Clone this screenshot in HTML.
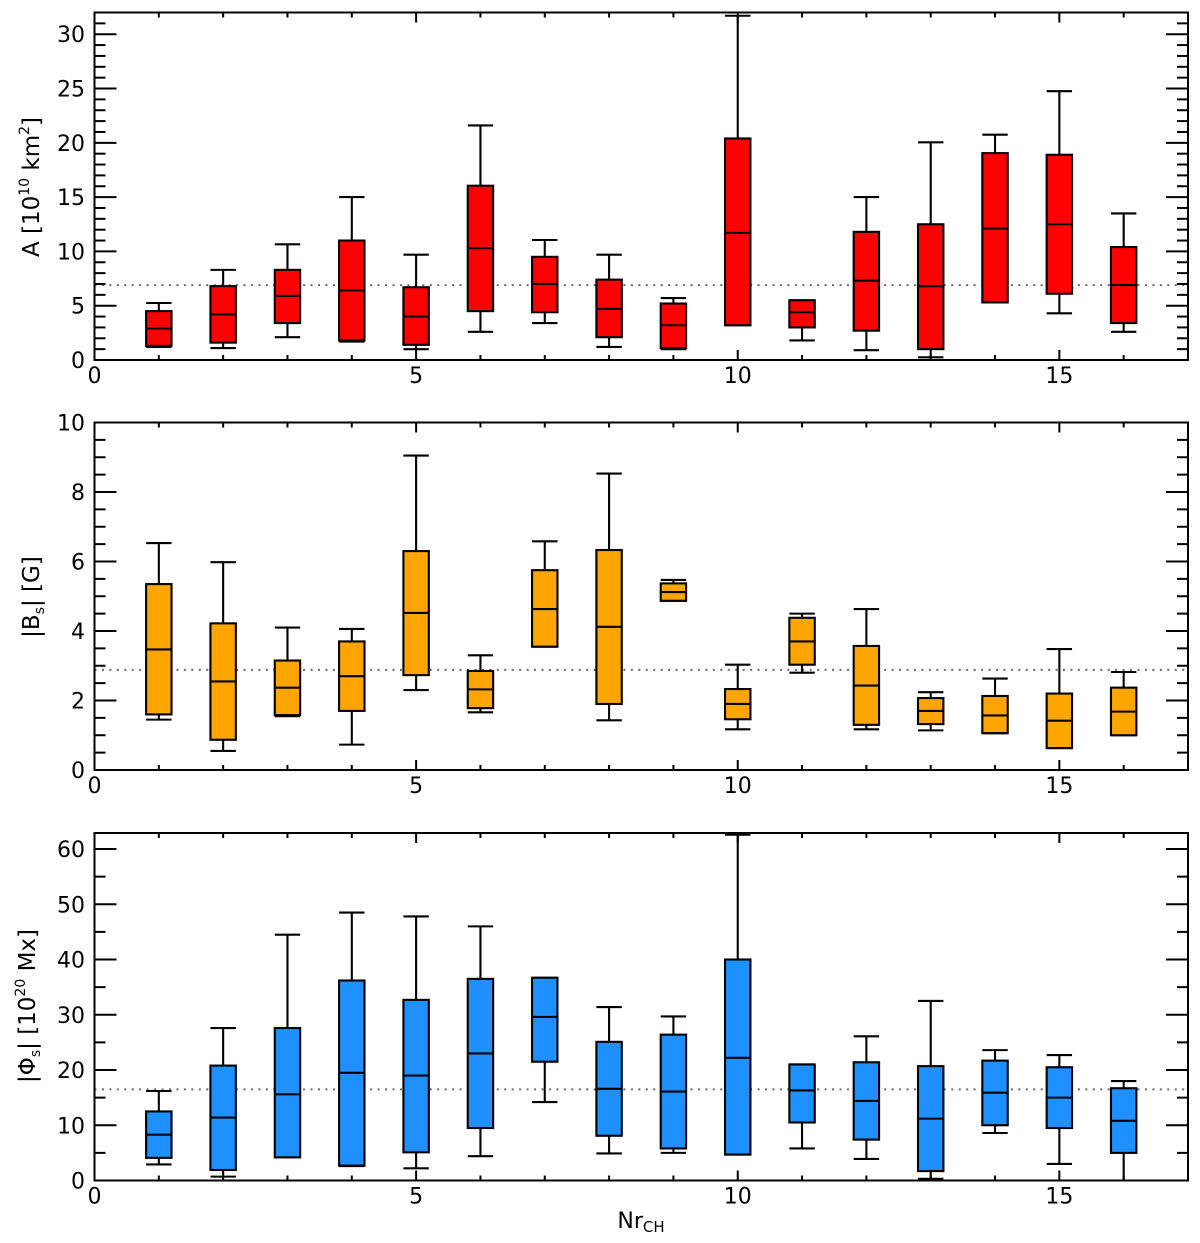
<!DOCTYPE html>
<html lang="en">
<head>
<meta charset="utf-8">
<title>Coronal hole box plots</title>
<style>
html,body{margin:0;padding:0;background:#fff;}
svg{display:block;}
text{font-family:"DejaVu Sans","Liberation Sans",sans-serif;fill:#000;}
</style>
</head>
<body>
<svg id="chart" xmlns="http://www.w3.org/2000/svg" width="1200" height="1243" viewBox="0 0 1200 1243">
  <text transform="translate(39,187) rotate(-90)" text-anchor="middle" font-size="23">A [10<tspan font-size="14" dy="-10">10</tspan><tspan dy="10"> km</tspan><tspan font-size="14" dy="-10">2</tspan><tspan dy="10">]</tspan></text>
  <text transform="translate(39,597) rotate(-90)" text-anchor="middle" font-size="23">|B<tspan font-size="14" dy="5">s</tspan><tspan dy="-5">| [G]</tspan></text>
  <text transform="translate(35,1006) rotate(-90)" text-anchor="middle" font-size="23">|Φ<tspan font-size="14" dy="5">s</tspan><tspan dy="-5">| [10</tspan><tspan font-size="14" dy="-10">20</tspan><tspan dy="10"> Mx]</tspan></text>
  <text x="641" y="1228" text-anchor="middle" font-size="22">Nr<tspan font-size="15" dy="4">CH</tspan></text>
</svg>
<script>
const categories = [1,2,3,4,5,6,7,8,9,10,11,12,13,14,15,16];
const xTickLabels = [0,5,10,15];

const areaLow = [1.2,1.1,2.1,1.7,1.0,2.6,3.4,1.2,1.0,3.2,1.8,0.9,0.25,5.3,4.3,2.6];
const areaQ1 = [1.3,1.6,3.4,1.8,1.4,4.5,4.4,2.1,1.1,3.2,3.0,2.7,1.0,5.3,6.1,3.4];
const areaMedian = [2.9,4.2,5.9,6.4,4.0,10.3,7.0,4.7,3.2,11.7,4.4,7.3,6.8,12.1,12.5,6.9];
const areaQ3 = [4.5,6.8,8.3,11.0,6.7,16.05,9.5,7.4,5.2,20.4,5.5,11.8,12.5,19.05,18.9,10.4];
const areaHigh = [5.25,8.3,10.65,15.0,9.7,21.6,11.05,9.7,5.7,31.7,5.5,15.0,20.05,20.75,24.75,13.5];
const areaMean = 6.9;
const areaTickLabels = [0,5,10,15,20,25,30];

const fieldLow = [1.45,0.55,1.55,0.73,2.3,1.66,3.55,1.43,4.87,1.17,2.8,1.17,1.14,1.06,0.63,1.0];
const fieldQ1 = [1.6,0.87,1.58,1.7,2.73,1.78,3.55,1.9,4.87,1.46,3.03,1.3,1.32,1.06,0.63,1.0];
const fieldMedian = [3.47,2.55,2.37,2.7,4.52,2.32,4.63,4.12,5.12,1.9,3.7,2.43,1.7,1.57,1.42,1.68];
const fieldQ3 = [5.35,4.22,3.15,3.7,6.3,2.85,5.75,6.33,5.37,2.33,4.38,3.57,2.07,2.13,2.2,2.37];
const fieldHigh = [6.53,5.98,4.1,4.06,9.05,3.3,6.58,8.53,5.47,3.03,4.5,4.63,2.24,2.63,3.48,2.82];
const fieldMean = 2.88;
const fieldTickLabels = [0,2,4,6,8,10];

const fluxLow = [2.9,0.7,4.2,2.6,2.2,4.4,14.2,4.9,5.0,4.7,5.8,3.9,0.3,8.6,3.0,0.0];
const fluxQ1 = [4.1,1.9,4.2,2.7,5.1,9.5,21.5,8.1,5.8,4.7,10.5,7.4,1.7,10.0,9.5,5.0];
const fluxMedian = [8.3,11.4,15.6,19.5,19.0,23.0,29.6,16.6,16.1,22.2,16.3,14.4,11.2,15.9,15.0,10.8];
const fluxQ3 = [12.5,20.8,27.6,36.2,32.7,36.5,36.7,25.1,26.4,40.0,21.0,21.4,20.7,21.7,20.5,16.7];
const fluxHigh = [16.2,27.6,44.5,48.5,47.8,46.0,36.7,31.4,29.7,62.6,21.0,26.1,32.5,23.6,22.7,18.0];
const fluxMean = 16.5;
const fluxTickLabels = [0,10,20,30,40,50,60];

const SVGNS = 'http://www.w3.org/2000/svg';
const svg = document.getElementById('chart');
const plotLeft = 94.5, plotRight = 1188;
const xMax = 17;
const boxHalf = 12.7;
const markWidth = 2.1;
const axisWidth = 2;

function xPos(v){ return plotLeft + (v / xMax) * (plotRight - plotLeft); }

function make(parent, tag, attrs){
  const el = document.createElementNS(SVGNS, tag);
  for (const k in attrs) el.setAttribute(k, attrs[k]);
  parent.appendChild(el);
  return el;
}

function drawLine(parent, x1, y1, x2, y2, sw, name){
  const el = make(parent, 'line', {x1:x1, y1:y1, x2:x2, y2:y2, stroke:'#000', 'stroke-width':sw});
  
  
  return el;
}

function drawLabel(parent, x, y, txt, anchor, name){
  const el = make(parent, 'text', {x:x, y:y, 'text-anchor':anchor, 'font-size':22});
  el.textContent = txt;
  
  
  return el;
}

function drawPanel(id, top, bottom, yMax, minorStep, yLabels, low, q1, med, q3, high, mean, color){
  const yPos = function(v){ return bottom - (v / yMax) * (bottom - top); };
  const g = make(svg, 'g', {});
  
  

  const meanLine = make(g, 'line', {x1:plotLeft, y1:yPos(mean), x2:plotRight, y2:yPos(mean), stroke:'#6a6a6a', 'stroke-width':2, 'stroke-dasharray':'2 5.45'});
  
  

  categories.forEach(function(c, i){
    const bx = make(g, 'g', {});
    
    
    const x = xPos(c);
    drawLine(bx, x, yPos(high[i]), x, yPos(q3[i]), markWidth, id + '-upper-whisker-' + c);
    drawLine(bx, x, yPos(low[i]), x, yPos(q1[i]), markWidth, id + '-lower-whisker-' + c);
    drawLine(bx, x - boxHalf, yPos(high[i]), x + boxHalf, yPos(high[i]), markWidth, id + '-upper-cap-' + c);
    drawLine(bx, x - boxHalf, yPos(low[i]), x + boxHalf, yPos(low[i]), markWidth, id + '-lower-cap-' + c);
    const r = make(bx, 'rect', {x:x - boxHalf, y:yPos(q3[i]), width:2 * boxHalf, height:yPos(q1[i]) - yPos(q3[i]), fill:color, stroke:'#000', 'stroke-width':markWidth});
    
    
    drawLine(bx, x - boxHalf, yPos(med[i]), x + boxHalf, yPos(med[i]), markWidth, id + '-median-' + c);
  });

  const frame = make(g, 'rect', {x:plotLeft, y:top, width:plotRight - plotLeft, height:bottom - top, fill:'none', stroke:'#000', 'stroke-width':axisWidth});
  
  

  for (let t = 1; t < xMax; t++){
    const major = t % 5 === 0;
    const len = major ? 10 : 5;
    drawLine(g, xPos(t), bottom, xPos(t), bottom - len, axisWidth, id + '-x-tick');
    drawLine(g, xPos(t), top, xPos(t), top + len, axisWidth, id + '-x-tick-top');
  }
  xTickLabels.forEach(function(v){
    drawLabel(g, xPos(v), bottom + 23, String(v), 'middle', id + '-x-tick-label');
  });

  const majorStep = yLabels[1] - yLabels[0];
  const nMinor = Math.floor(yMax / minorStep + 1e-6);
  for (let k = 1; k <= nMinor; k++){
    const v = k * minorStep;
    const major = Math.abs(v / majorStep - Math.round(v / majorStep)) < 1e-6;
    const len = major ? 22 : 11;
    if (yPos(v) <= top + 0.5) continue;
    drawLine(g, plotLeft, yPos(v), plotLeft + len, yPos(v), axisWidth, id + '-y-tick');
    drawLine(g, plotRight, yPos(v), plotRight - len, yPos(v), axisWidth, id + '-y-tick-right');
  }
  yLabels.forEach(function(v){
    drawLabel(g, 85, yPos(v) + 8, String(v), 'end', id + '-y-tick-label');
  });
}

drawPanel('area', 12.5, 360, 32, 1, areaTickLabels, areaLow, areaQ1, areaMedian, areaQ3, areaHigh, areaMean, '#ff0000');
drawPanel('field', 422.5, 770, 10, 0.5, fieldTickLabels, fieldLow, fieldQ1, fieldMedian, fieldQ3, fieldHigh, fieldMean, '#ffa500');
drawPanel('flux', 833, 1180.5, 62.9, 5, fluxTickLabels, fluxLow, fluxQ1, fluxMedian, fluxQ3, fluxHigh, fluxMean, '#1e90ff');
</script>
</body>
</html>
